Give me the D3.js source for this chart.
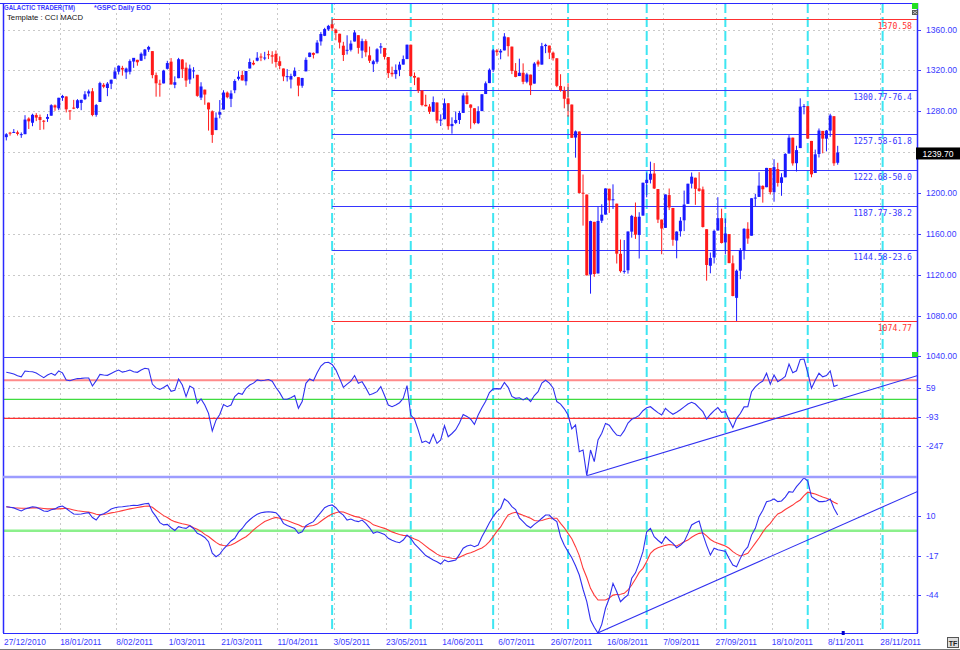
<!DOCTYPE html>
<html><head><meta charset="utf-8">
<script src="https://cdn.jsdelivr.net/npm/d3@7"></script>
<style>body{margin:0;background:#fff;overflow:hidden}svg{display:block}</style>
</head><body><svg id="c" width="960" height="650"></svg>
<script>
// ---------- DATA ----------
const dates = ["27/12/2010","28/12/2010","29/12/2010","30/12/2010","31/12/2010",
"3/01/2011","4/01/2011","5/01/2011","6/01/2011","7/01/2011","10/01/2011","11/01/2011","12/01/2011","13/01/2011","14/01/2011",
"18/01/2011","19/01/2011","20/01/2011","21/01/2011","24/01/2011","25/01/2011","26/01/2011","27/01/2011","28/01/2011","31/01/2011",
"1/02/2011","2/02/2011","3/02/2011","4/02/2011","7/02/2011","8/02/2011","9/02/2011","10/02/2011","11/02/2011","14/02/2011",
"15/02/2011","16/02/2011","17/02/2011","18/02/2011","22/02/2011","23/02/2011","24/02/2011","25/02/2011","28/02/2011",
"1/03/2011","2/03/2011","3/03/2011","4/03/2011","7/03/2011","8/03/2011","9/03/2011","10/03/2011","11/03/2011","14/03/2011",
"15/03/2011","16/03/2011","17/03/2011","18/03/2011","21/03/2011","22/03/2011","23/03/2011","24/03/2011","25/03/2011","28/03/2011",
"29/03/2011","30/03/2011","31/03/2011","1/04/2011","4/04/2011","5/04/2011","6/04/2011","7/04/2011","8/04/2011","11/04/2011",
"12/04/2011","13/04/2011","14/04/2011","15/04/2011","18/04/2011","19/04/2011","20/04/2011","21/04/2011","25/04/2011","26/04/2011",
"27/04/2011","28/04/2011","29/04/2011","2/05/2011","3/05/2011","4/05/2011","5/05/2011","6/05/2011","9/05/2011","10/05/2011",
"11/05/2011","12/05/2011","13/05/2011","16/05/2011","17/05/2011","18/05/2011","19/05/2011","20/05/2011","23/05/2011","24/05/2011",
"25/05/2011","26/05/2011","27/05/2011","31/05/2011","1/06/2011","2/06/2011","3/06/2011","6/06/2011","7/06/2011","8/06/2011",
"9/06/2011","10/06/2011","13/06/2011","14/06/2011","15/06/2011","16/06/2011","17/06/2011","20/06/2011","21/06/2011","22/06/2011",
"23/06/2011","24/06/2011","27/06/2011","28/06/2011","29/06/2011","30/06/2011","1/07/2011","5/07/2011","6/07/2011","7/07/2011",
"8/07/2011","11/07/2011","12/07/2011","13/07/2011","14/07/2011","15/07/2011","18/07/2011","19/07/2011","20/07/2011","21/07/2011",
"22/07/2011","25/07/2011","26/07/2011","27/07/2011","28/07/2011","29/07/2011","1/08/2011","2/08/2011","3/08/2011","4/08/2011",
"5/08/2011","8/08/2011","9/08/2011","10/08/2011","11/08/2011","12/08/2011","15/08/2011","16/08/2011","17/08/2011","18/08/2011",
"19/08/2011","22/08/2011","23/08/2011","24/08/2011","25/08/2011","26/08/2011","29/08/2011","30/08/2011","31/08/2011","1/09/2011",
"2/09/2011","6/09/2011","7/09/2011","8/09/2011","9/09/2011","12/09/2011","13/09/2011","14/09/2011","15/09/2011","16/09/2011",
"19/09/2011","20/09/2011","21/09/2011","22/09/2011","23/09/2011","26/09/2011","27/09/2011","28/09/2011","29/09/2011","30/09/2011",
"3/10/2011","4/10/2011","5/10/2011","6/10/2011","7/10/2011","10/10/2011","11/10/2011","12/10/2011","13/10/2011","14/10/2011",
"17/10/2011","18/10/2011","19/10/2011","20/10/2011","21/10/2011","24/10/2011","25/10/2011","26/10/2011","27/10/2011","28/10/2011",
"31/10/2011","1/11/2011","2/11/2011","3/11/2011","4/11/2011","7/11/2011","8/11/2011","9/11/2011","10/11/2011"];

const open = [1254.7,1259.1,1258.8,1259.4,1256.8,1257.6,1272.9,1268.8,1276.3,1274.4,
1270.8,1272.6,1275.7,1285.8,1282.9,1293.2,1294.5,1280.9,1283.6,1283.3,
1288.2,1291.9,1297.5,1299.6,1276.5,1289.1,1305.9,1302.8,1307.0,1311.9,
1318.8,1322.5,1318.1,1318.7,1328.7,1330.4,1329.5,1334.4,1340.4,1338.9,
1315.4,1307.1,1307.3,1321.6,1328.6,1305.9,1312.4,1330.7,1322.7,1311.1,
1319.9,1315.7,1293.4,1301.2,1288.5,1280.0,1261.6,1276.7,1281.7,1298.3,
1292.2,1300.6,1311.8,1315.5,1309.4,1321.9,1327.4,1329.5,1333.6,1332.0,
1335.9,1334.8,1336.2,1329.0,1321.9,1314.0,1311.1,1314.5,1313.4,1305.0,
1319.1,1333.2,1337.1,1336.8,1348.4,1353.9,1360.1,1365.2,1359.8,1355.9,
1344.2,1340.2,1340.2,1348.3,1354.5,1339.4,1348.7,1334.8,1326.1,1328.5,
1342.4,1342.0,1333.1,1317.7,1316.4,1320.6,1325.7,1331.1,1345.2,1314.6,
1313.0,1300.4,1286.3,1284.6,1279.6,1288.6,1271.3,1272.2,1287.9,1265.5,
1268.6,1271.5,1278.4,1295.5,1286.6,1283.0,1268.4,1280.2,1296.9,1307.6,
1320.6,1339.6,1337.6,1339.6,1352.4,1343.3,1319.6,1314.5,1317.7,1308.9,
1315.9,1307.1,1328.7,1325.7,1343.8,1344.3,1337.4,1331.9,1304.8,1300.1,
1292.6,1286.6,1254.3,1260.2,1200.3,1198.5,1120.2,1171.8,1121.3,1172.9,
1178.9,1204.2,1192.9,1189.6,1140.5,1123.6,1124.4,1162.2,1176.7,1158.9,
1177.9,1209.8,1213.0,1219.1,1203.9,1174.0,1165.9,1198.0,1185.4,1153.5,
1162.6,1173.3,1189.4,1209.2,1215.0,1204.5,1203.6,1164.6,1128.8,1136.9,
1163.3,1175.4,1151.7,1159.9,1131.2,1097.4,1124.0,1144.1,1165.0,1158.2,
1194.6,1196.2,1207.0,1205.7,1224.5,1200.8,1223.5,1209.9,1215.4,1238.7,
1254.2,1229.2,1244.0,1284.4,1285.0,1251.0,1219.6,1238.2,1260.8,1253.2,
1261.1,1275.2,1229.6];

const high = [1258.6,1259.9,1262.6,1261.1,1259.3,1276.2,1274.1,1277.6,1278.2,1276.8,
1271.5,1277.3,1286.9,1286.7,1293.2,1296.1,1294.6,1280.9,1291.2,1291.9,
1291.3,1299.7,1301.3,1302.7,1287.2,1308.9,1307.6,1308.6,1311.0,1322.9,
1324.9,1324.5,1322.8,1330.8,1332.1,1330.4,1337.6,1341.0,1344.1,1338.9,
1317.9,1310.9,1320.6,1329.4,1332.1,1314.2,1332.3,1331.1,1327.7,1325.7,
1323.2,1315.7,1308.4,1301.2,1288.5,1280.9,1278.9,1291.0,1300.6,1299.4,
1300.5,1311.3,1319.2,1319.7,1319.5,1331.7,1329.8,1337.9,1336.7,1338.2,
1339.4,1338.8,1339.5,1333.8,1321.9,1321.3,1316.8,1322.9,1313.4,1312.7,
1332.7,1337.5,1337.6,1349.6,1357.5,1361.7,1364.6,1370.58,1360.8,1355.9,
1348.0,1354.4,1349.4,1359.4,1354.5,1351.1,1350.5,1343.3,1330.4,1341.8,
1346.8,1342.0,1333.1,1323.7,1325.9,1328.5,1334.6,1345.2,1345.2,1318.0,
1313.0,1300.4,1296.2,1287.0,1294.5,1288.6,1277.0,1292.5,1287.9,1274.1,
1279.8,1280.4,1297.6,1298.6,1286.8,1283.0,1284.9,1296.8,1309.2,1322.0,
1341.0,1340.9,1340.9,1356.5,1352.4,1343.3,1327.2,1331.5,1326.9,1317.7,
1315.9,1328.1,1330.4,1347.0,1346.1,1344.3,1338.5,1331.9,1316.3,1304.2,
1307.4,1286.6,1261.2,1260.2,1218.1,1198.5,1172.9,1171.8,1186.3,1189.0,
1204.5,1204.2,1208.5,1189.6,1154.5,1154.0,1162.4,1178.6,1190.7,1181.2,
1210.1,1220.1,1230.7,1229.3,1203.9,1174.0,1198.6,1204.4,1185.4,1162.5,
1176.4,1202.4,1209.1,1220.1,1215.0,1220.4,1206.3,1164.6,1141.7,1164.2,
1195.9,1184.7,1175.1,1159.9,1138.9,1125.1,1146.1,1165.6,1171.4,1194.9,
1199.2,1220.3,1207.5,1224.6,1224.5,1233.1,1229.6,1219.4,1239.0,1256.6,
1254.2,1246.3,1292.7,1287.1,1285.0,1251.0,1242.5,1263.2,1260.8,1261.7,
1277.6,1275.2,1246.2];

const low = [1251.5,1256.2,1258.8,1256.3,1254.0,1257.6,1262.7,1265.4,1270.4,1261.7,
1262.2,1269.6,1275.7,1280.5,1281.1,1290.2,1278.9,1271.6,1282.1,1282.5,
1281.1,1291.0,1294.4,1275.1,1274.7,1289.1,1302.6,1294.8,1301.7,1311.9,
1316.0,1314.9,1311.7,1316.1,1322.5,1324.6,1329.5,1331.0,1338.1,1312.3,
1294.3,1294.3,1307.3,1320.9,1306.1,1302.6,1312.4,1312.6,1303.9,1306.9,
1312.3,1294.2,1291.0,1286.4,1261.1,1249.1,1261.6,1273.1,1281.7,1292.7,
1284.1,1297.7,1310.2,1310.2,1305.3,1321.9,1325.0,1328.9,1329.1,1330.0,
1331.1,1326.6,1322.9,1321.1,1309.5,1309.2,1302.4,1313.7,1294.7,1303.0,
1319.1,1332.9,1331.7,1336.8,1344.3,1353.6,1358.7,1358.6,1349.5,1341.5,
1329.2,1335.6,1338.6,1348.3,1336.4,1332.0,1333.4,1327.3,1318.5,1326.6,
1336.4,1330.7,1312.6,1313.9,1311.8,1314.4,1325.7,1331.1,1313.7,1305.6,
1297.9,1284.9,1284.7,1277.4,1279.6,1268.3,1265.6,1272.2,1261.9,1258.1,
1267.4,1267.6,1278.4,1286.8,1262.9,1267.2,1267.5,1280.2,1296.9,1307.6,
1318.3,1334.3,1330.9,1339.6,1333.7,1316.4,1313.3,1314.5,1306.5,1307.4,
1295.9,1307.1,1323.7,1325.7,1336.9,1331.1,1329.6,1303.6,1299.2,1282.9,
1274.7,1254.0,1234.6,1199.5,1168.1,1119.3,1101.5,1118.0,1121.3,1170.7,
1178.9,1180.5,1184.4,1131.0,1122.1,1121.1,1121.1,1156.3,1155.1,1135.9,
1177.9,1195.8,1209.4,1203.9,1170.6,1140.1,1165.9,1183.3,1148.4,1136.1,
1157.4,1162.7,1189.4,1204.5,1188.4,1201.3,1166.2,1114.2,1121.4,1131.1,
1163.3,1150.6,1139.9,1131.3,1098.9,1074.77,1115.7,1134.9,1150.3,1158.2,
1187.3,1196.2,1190.6,1205.7,1198.6,1191.5,1206.3,1197.3,1215.4,1238.7,
1226.8,1221.1,1244.0,1277.0,1253.2,1215.4,1219.6,1234.8,1238.9,1240.8,
1255.0,1226.6,1227.7];

const close = [1257.54,1258.51,1259.78,1257.88,1257.64,1271.87,1270.20,1276.56,1273.85,1271.50,
1269.75,1274.48,1285.96,1283.76,1293.24,1295.02,1281.92,1280.26,1283.35,1290.84,
1291.18,1296.63,1299.54,1276.34,1286.12,1307.59,1304.03,1307.10,1310.87,1319.05,
1324.57,1320.88,1321.87,1329.15,1332.32,1328.01,1336.32,1340.43,1343.01,1315.44,
1307.40,1306.10,1319.88,1327.22,1306.33,1308.44,1330.97,1321.15,1310.13,1321.82,
1320.02,1295.11,1304.28,1296.39,1281.87,1256.88,1273.72,1279.21,1298.38,1293.77,
1297.54,1309.66,1313.80,1310.19,1319.44,1328.26,1325.83,1332.41,1332.87,1332.63,
1335.54,1333.51,1328.17,1324.46,1314.16,1314.41,1314.52,1319.68,1305.14,1312.62,
1330.36,1337.38,1335.25,1347.24,1355.66,1360.48,1363.61,1361.22,1356.62,1347.32,
1335.10,1340.20,1346.29,1357.16,1342.08,1348.65,1337.77,1329.47,1328.98,1340.68,
1343.60,1333.27,1317.37,1316.28,1320.47,1325.69,1331.10,1345.20,1314.55,1312.94,
1300.16,1286.17,1284.94,1279.56,1289.00,1270.98,1271.83,1287.87,1265.42,1267.64,
1271.50,1278.36,1295.52,1287.14,1283.50,1268.45,1280.10,1296.67,1307.41,1320.64,
1339.67,1337.88,1339.22,1353.22,1343.80,1319.49,1313.64,1317.72,1308.87,1316.14,
1305.44,1326.73,1325.84,1343.80,1345.02,1337.43,1331.94,1304.89,1300.67,1292.28,
1286.94,1254.05,1260.34,1200.07,1199.38,1119.46,1172.53,1120.76,1172.64,1178.81,
1204.49,1192.76,1193.89,1140.65,1123.53,1123.82,1162.35,1177.60,1159.27,1176.80,
1210.08,1212.92,1218.89,1204.42,1173.97,1165.24,1198.62,1185.90,1154.23,1162.27,
1172.87,1188.68,1209.11,1216.01,1204.09,1202.09,1166.76,1129.56,1136.43,1162.95,
1175.38,1151.06,1160.40,1131.42,1099.23,1123.95,1144.03,1164.97,1155.46,1194.89,
1195.54,1207.25,1203.66,1224.58,1200.86,1225.38,1209.88,1215.39,1238.25,1254.19,
1229.05,1242.00,1284.59,1285.09,1253.30,1218.28,1237.90,1261.15,1253.23,1261.12,
1275.92,1229.10,1239.70];

const cci = [142,138,133,124,118,149,146,145,138,126,
114,128,137,126,149,139,101,98,104,109,
110,112,112,70,98,131,128,126,136,146,
154,143,148,154,145,142,154,163,160,80,
60,52,62,75,42,47,107,75,14,70,
58,-21,2,-30,-74,-167,-110,-80,-28,-39,
-30,14,32,26,58,75,85,102,98,100,
104,95,62,35,0,0,8,20,-47,-12,
84,107,98,140,175,192,195,183,155,110,
63,80,95,125,84,93,60,23,30,40,
67,20,-30,-39,-30,-18,5,72,-83,-105,
-162,-228,-220,-232,-184,-232,-214,-139,-197,-180,
-160,-125,-80,-90,-105,-132,-83,-45,-10,35,
55,56,55,89,63,15,5,8,-3,8,
-12,20,40,85,100,85,60,-12,-25,-50,
-83,-156,-135,-276,-267,-402,-267,-328,-214,-179,
-127,-136,-165,-188,-193,-165,-125,-105,-97,-85,
-60,-45,-39,-55,-70,-83,-48,-65,-79,-68,
-55,-40,-25,-16,-25,-45,-65,-104,-80,-60,
-44,-69,-65,-109,-149,-100,-75,-40,-39,40,
65,84,96,137,80,128,93,105,120,185,
140,150,210,212,140,58,100,137,118,125,
149,67,75];

const macd = [16.4,16.0,15.6,14.5,13.5,14.9,15.6,16.4,16.0,14.9,
13.5,13.2,14.3,14.9,16.3,16.9,15.2,13.2,11.4,11.2,
11.4,11.9,12.3,9.0,7.3,10.7,11.6,13.0,14.8,15.7,
16.2,16.4,16.7,17.0,17.4,17.2,17.8,18.4,18.7,13.0,
9.6,5.5,4.0,4.3,2.0,0.2,2.8,2.0,1.6,3.4,
1.5,-1.8,-3.0,-4.6,-7.5,-15.4,-17.8,-16.0,-12.5,-9.8,
-7.0,-5.2,-1.0,1.5,5.0,7.5,9.6,11.2,12.3,12.7,
13.0,12.7,12.3,9.6,5.0,3.6,2.6,1.6,-1.8,-0.7,
3.4,5.0,6.2,9.5,12.5,15.7,17.0,17.6,15.7,12.5,
10.7,7.3,8.0,6.8,6.2,7.3,5.0,2.0,-1.8,-0.7,
-1.5,-2.5,-5.2,-6.5,-7.5,-8.2,-6.4,-3.0,-5.2,-9.0,
-11.5,-14.3,-17.0,-18.5,-20.0,-21.2,-22.8,-20.0,-21.2,-20.6,
-20.0,-16.2,-12.0,-10.5,-9.8,-10.9,-9.8,-4.1,0.5,5.5,
9.6,13.0,15.3,21.7,19.9,16.5,14.4,8.7,6.2,3.5,
2.0,4.3,6.2,8.5,10.7,10.7,8.0,6.2,-4.1,-10.0,
-14.3,-18.5,-24.0,-30.3,-40.0,-48.5,-61.0,-66.0,-70.1,-64.0,
-53.0,-46.2,-36.0,-41.7,-48.5,-46.0,-43.9,-32.5,-28.8,-22.0,
-14.3,-0.7,1.6,-4.1,-6.5,-8.6,-4.1,-6.5,-8.6,-11.6,
-10.0,-7.5,-2.0,3.9,5.5,6.6,-2.5,-10.0,-16.6,-11.9,
-13.0,-13.5,-14.1,-19.0,-23.4,-24.6,-18.9,-14.0,-11.1,-3.0,
1.6,9.6,14.0,19.8,20.5,21.7,19.9,20.3,23.0,26.7,
26.3,30.1,33.0,36.2,33.9,23.2,21.5,19.9,19.9,20.3,
21.7,15.3,10.7];

const signal = [16.4,16.0,15.7,15.5,15.3,15.3,15.4,15.6,15.7,15.5,
15.2,14.9,14.9,14.9,14.9,15.1,15.3,14.8,14.2,13.6,
13.3,13.0,12.7,12.1,11.2,10.8,11.1,11.6,12.2,12.6,
13.1,13.7,14.3,14.9,15.4,15.9,16.3,16.7,16.9,16.0,
14.0,12.2,10.3,9.0,7.3,6.2,5.5,4.8,4.3,3.5,
2.0,1.0,-0.5,-2.5,-4.0,-6.0,-8.0,-9.5,-10.1,-10.4,
-9.8,-8.6,-7.0,-5.5,-4.1,-2.0,0.5,2.6,4.5,6.3,
7.3,8.3,9.1,8.5,7.6,7.0,6.0,5.0,4.0,2.8,
2.6,3.2,3.6,4.5,6.5,8.3,10.0,11.4,12.3,13.0,
12.8,11.8,10.8,9.8,9.3,8.4,7.4,6.0,4.0,3.2,
2.4,1.6,0.4,-0.8,-1.8,-2.6,-3.2,-3.4,-4.5,-5.6,
-6.6,-8.5,-10.5,-12.5,-14.2,-16.0,-17.3,-17.8,-18.3,-18.8,
-19.0,-18.2,-17.0,-15.8,-15.0,-14.0,-12.8,-11.8,-10.0,-7.5,
-4.0,-0.5,2.6,7.0,10.7,12.0,12.6,11.5,10.5,9.6,
8.5,7.0,6.6,7.0,7.8,8.5,8.5,8.5,5.0,2.0,
-1.8,-5.5,-10.9,-17.0,-25.7,-32.0,-39.4,-44.0,-47.4,-47.4,
-47.4,-46.0,-44.0,-43.6,-43.4,-42.8,-40.5,-37.1,-33.0,-28.5,
-25.7,-21.0,-15.4,-13.0,-11.6,-10.8,-10.0,-9.4,-9.8,-10.4,
-9.0,-7.5,-6.4,-4.5,-3.0,-1.8,-1.4,-3.5,-6.0,-7.5,
-8.5,-9.5,-10.4,-12.0,-14.3,-16.0,-17.3,-16.5,-15.4,-12.0,
-8.5,-5.0,-1.0,2.5,5.0,8.5,11.5,12.6,14.5,16.0,
17.5,19.5,21.0,24.0,26.3,25.7,25.1,24.0,23.0,22.2,
21.0,19.5,18.3];

const xTickIdx = [0,15,30,44,58,73,88,102,117,132,146,161,176,190,205,220,234];
const xTickLabels = ["27/12/2010","18/01/2011","8/02/2011","1/03/2011","21/03/2011","11/04/2011","3/05/2011","23/05/2011","14/06/2011","6/07/2011","26/07/2011","16/08/2011","7/09/2011","27/09/2011","18/10/2011","8/11/2011","28/11/2011"];
const priceTicks = [1360,1320,1280,1240,1200,1160,1120,1080,1040];
const priceTickLabels = ["1360.00","1320.00","1280.00","","1200.00","1160.00","1120.00","1080.00","1040.00"];
const cciTicks = [59,-93,-247];
const cciLevels = [100,0,-100];
const macdTicks = [10,-17,-44];
const fibStartIdx = 87;
const fibValues = [1370.58,1300.77,1257.58,1222.68,1187.77,1144.58,1074.77];
const fibLabels = ["1370.58","1300.77-76.4","1257.58-61.8","1222.68-50.0","1187.77-38.2","1144.58-23.6","1074.77"];
const cycleIdx = [87,108,130,150,171,192,214,234];
const cciTrend = [[155,-402],[243.2,124]];
const macdTrend = [[157.9,-69.9],[243.2,26.7]];
const lastPrice = "1239.70";

// ---------- DRAW ----------
const svg = d3.select("#c");
const BLUE="#1a1aff", RED="#ff1a1a";
const L=3, R=917, T=3, B=633, P1=357, P2=477;
const x = d3.scaleLinear().domain([0,222]).range([6.3,837.7]);
const yP = d3.scaleLinear().domain([1039.5,1386]).range([P1,T]);
const yC = d3.scaleLinear().domain([-409,222.6]).range([P2,P1]);
const yM = d3.scaleLinear().domain([-69.9,36.7]).range([B,P2]);
const font = "'Liberation Sans', Arial, sans-serif";

svg.append("rect").attr("width",960).attr("height",650).attr("fill","#fff");
const defs = svg.append("defs");
[["cp",T,P1],["cc",P1,P2],["cm",P2,B+1]].forEach(([id,a,b])=>{
  defs.append("clipPath").attr("id",id).append("rect").attr("x",L).attr("y",a).attr("width",R-L).attr("height",b-a);
});

// grids
const grid = svg.append("g").attr("stroke","#c9c9c9").attr("stroke-dasharray","2,3").attr("stroke-width",1);
xTickIdx.forEach(i=>{ const gx=Math.round(x(i)-2.3)+0.5; if(gx>L+2&&gx<R) grid.append("line").attr("x1",gx).attr("x2",gx).attr("y1",T).attr("y2",B); });
priceTicks.forEach(v=>{ const yy=Math.round(yP(v))+0.5; if(yy<P1-2) grid.append("line").attr("x1",L).attr("x2",R).attr("y1",yy).attr("y2",yy); });
cciTicks.forEach(v=>grid.append("line").attr("x1",L).attr("x2",R).attr("y1",Math.round(yC(v))+0.5).attr("y2",Math.round(yC(v))+0.5));
macdTicks.forEach(v=>grid.append("line").attr("x1",L).attr("x2",R).attr("y1",Math.round(yM(v))+0.5).attr("y2",Math.round(yM(v))+0.5));

// cycle lines
const cyc = svg.append("g").attr("stroke","#3ee6f2").attr("stroke-width",2).attr("stroke-dasharray","10,4");
cycleIdx.forEach(i=>cyc.append("line").attr("x1",x(i)).attr("x2",x(i)).attr("y1",T).attr("y2",B));

// fib lines
const fib = svg.append("g");
fibValues.forEach((v,k)=>{
  const red = (k===0||k===fibValues.length-1);
  const yy = Math.round(yP(v))+0.5;
  fib.append("line").attr("x1",x(fibStartIdx)).attr("x2",R).attr("y1",yy).attr("y2",yy)
     .attr("stroke",red?"#ff3030":"#3535ff").attr("stroke-width",1.2);
  const lab = fibLabels[k];
  fib.append("text").attr("x",912).attr("y",yy+9).attr("text-anchor","end")
     .attr("font-family","'DejaVu Sans Mono', monospace").attr("font-size",9.5)
     .attr("textLength",lab.length*4.9).attr("lengthAdjust","spacingAndGlyphs")
     .attr("fill",red?"#ff3030":"#3535ff").text(lab);
});

// candles
const cg = svg.append("g").attr("clip-path","url(#cp)");
close.forEach((c,i)=>{
  const o=open[i], col = c>=o?BLUE:RED, cx=x(i);
  cg.append("line").attr("x1",cx).attr("x2",cx).attr("y1",yP(high[i])).attr("y2",yP(low[i])).attr("stroke",col).attr("stroke-width",1);
  const y1=yP(Math.max(o,c)), y2=yP(Math.min(o,c));
  cg.append("rect").attr("x",cx-1.5).attr("y",y1).attr("width",3).attr("height",Math.max(1,y2-y1)).attr("fill",col);
});

// CCI panel
const ccg = svg.append("g").attr("clip-path","url(#cc)");
ccg.append("line").attr("x1",L).attr("x2",R).attr("y1",yC(100)).attr("y2",yC(100)).attr("stroke","#ff8a8a").attr("stroke-width",2);
ccg.append("line").attr("x1",L).attr("x2",R).attr("y1",yC(0)).attr("y2",yC(0)).attr("stroke","#3fdc3f").attr("stroke-width",1.3);
ccg.append("line").attr("x1",L).attr("x2",R).attr("y1",yC(-100)).attr("y2",yC(-100)).attr("stroke","#ff3030").attr("stroke-width",1.3);
ccg.append("path").attr("d",d3.line().x((d,i)=>x(i)).y(d=>yC(d))(cci)).attr("fill","none").attr("stroke","#3030f0").attr("stroke-width",1.1);
ccg.append("line").attr("x1",x(cciTrend[0][0])).attr("y1",yC(cciTrend[0][1])).attr("x2",x(cciTrend[1][0])).attr("y2",yC(cciTrend[1][1])).attr("stroke","#3030f0").attr("stroke-width",1.1);

// MACD panel
const mg = svg.append("g").attr("clip-path","url(#cm)");
mg.append("line").attr("x1",L).attr("x2",R).attr("y1",yM(0)).attr("y2",yM(0)).attr("stroke","#8cf08c").attr("stroke-width",2.5);
mg.append("path").attr("d",d3.line().x((d,i)=>x(i)).y(d=>yM(d))(signal)).attr("fill","none").attr("stroke","#ff3a3a").attr("stroke-width",1.1);
mg.append("path").attr("d",d3.line().x((d,i)=>x(i)).y(d=>yM(d))(macd)).attr("fill","none").attr("stroke","#3030f0").attr("stroke-width",1.1);
mg.append("line").attr("x1",x(macdTrend[0][0])).attr("y1",yM(macdTrend[0][1])).attr("x2",x(macdTrend[1][0])).attr("y2",yM(macdTrend[1][1])).attr("stroke","#3030f0").attr("stroke-width",1.1);

// frame
const fr = svg.append("g");
fr.append("line").attr("x1",0).attr("x2",R).attr("y1",T+0.5).attr("y2",T+0.5).attr("stroke","#2a2aff");
fr.append("line").attr("x1",L+0.5).attr("x2",L+0.5).attr("y1",T).attr("y2",B).attr("stroke","#2a2aff").attr("stroke-width",1.5);
fr.append("line").attr("x1",R+0.5).attr("x2",R+0.5).attr("y1",T).attr("y2",B).attr("stroke","#2a2aff").attr("stroke-width",1.5);
fr.append("line").attr("x1",L).attr("x2",R).attr("y1",P1+0.5).attr("y2",P1+0.5).attr("stroke","#3a3aff").attr("stroke-width",1.2);
fr.append("line").attr("x1",L).attr("x2",R).attr("y1",P2).attr("y2",P2).attr("stroke","#9c9cff").attr("stroke-width",2.5);
fr.append("line").attr("x1",L).attr("x2",R+1).attr("y1",B+0.5).attr("y2",B+0.5).attr("stroke","#2a2aff").attr("stroke-width",1.2);

// right axis labels
const ax = svg.append("g").attr("font-family",font).attr("font-size",8.6).attr("fill","#3a3aff");
const rtick=(yy,lab)=>{ ax.append("line").attr("x1",R).attr("x2",R+4).attr("y1",Math.round(yy)+0.5).attr("y2",Math.round(yy)+0.5).attr("stroke","#3a3aff");
  if(lab) ax.append("text").attr("x",926).attr("y",yy+3).text(lab); };
priceTicks.forEach((v,k)=>rtick(yP(v),priceTickLabels[k]));
cciTicks.forEach(v=>rtick(yC(v),String(v)));
macdTicks.forEach(v=>rtick(yM(v),String(v)));

// last price box
const ly = yP(+lastPrice);
svg.append("rect").attr("x",916).attr("y",ly-5).attr("width",44).attr("height",12).attr("fill","#000");
svg.append("text").attr("x",938).attr("y",ly+4.5).attr("text-anchor","middle").attr("font-family",font).attr("font-size",8.6).attr("fill","#fff").text(lastPrice);

// x axis labels
const xl = svg.append("g").attr("font-family",font).attr("font-size",8.4).attr("fill","#3a3aff");
xTickIdx.forEach((i,k)=>{ xl.append("text").attr("x",x(i)-2.3).attr("y",645).text(xTickLabels[k]); });
svg.append("rect").attr("x",x(220)+11.5).attr("y",631).attr("width",3).attr("height",4).attr("fill","#0000d0");

// titles
svg.append("text").attr("x",4).attr("y",10).attr("font-family",font).attr("font-size",7.4).attr("font-weight","bold")
  .attr("fill","#3a3aff").attr("textLength",71).attr("lengthAdjust","spacingAndGlyphs").text("GALACTIC TRADER(TM)");
svg.append("text").attr("x",94).attr("y",10).attr("font-family",font).attr("font-size",7.4).attr("font-weight","bold")
  .attr("fill","#3a3aff").attr("textLength",57).attr("lengthAdjust","spacingAndGlyphs").text("*GSPC Daily EOD");
svg.append("text").attr("x",7).attr("y",19.5).attr("font-family",font).attr("font-size",8)
  .attr("fill","#111").attr("textLength",76).attr("lengthAdjust","spacingAndGlyphs").text("Template : CCI MACD");

// widgets
svg.append("rect").attr("x",912).attr("y",3).attr("width",6).attr("height",6).attr("fill","#22e022");
svg.append("rect").attr("x",912).attr("y",10).attr("width",6).attr("height",5).attr("fill","#555");
svg.append("path").attr("d","M913,11L917,14M917,11L913,14").attr("stroke","#ddd").attr("stroke-width",0.8);
svg.append("rect").attr("x",912).attr("y",352).attr("width",6).attr("height",5).attr("fill","#22e022");
svg.append("line").attr("x1",0).attr("x2",960).attr("y1",649.5).attr("y2",649.5).attr("stroke","#777");
svg.append("rect").attr("x",947.5).attr("y",637.5).attr("width",11).attr("height",10).attr("fill","#ddd").attr("stroke","#555");
svg.append("text").attr("x",953).attr("y",645.5).attr("text-anchor","middle").attr("font-family",font).attr("font-size",7).attr("font-weight","bold").attr("fill","#222").text("TF");
</script></body></html>
